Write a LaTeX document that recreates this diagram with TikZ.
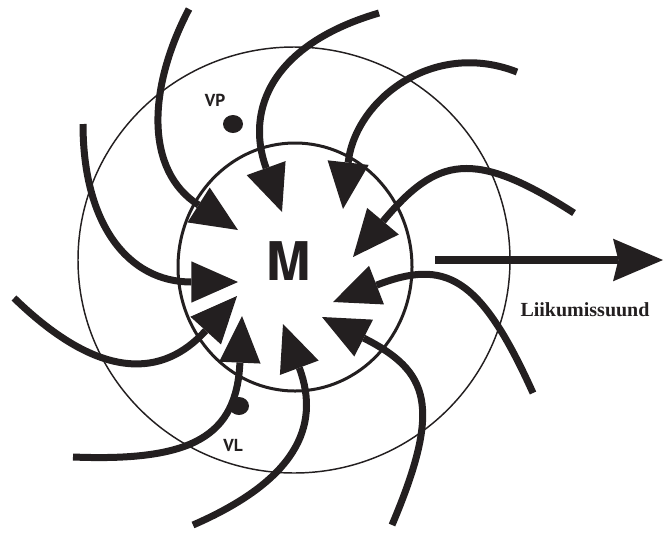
\documentclass[tikz,border=0pt]{standalone}
\usepackage{fontspec}
\newfontfamily\heros{TeX Gyre Heros}
\newfontfamily\ptsans{PT Sans}
\newfontfamily\libserif{Liberation Serif}
\usepackage{tikz}
\usetikzlibrary{arrows.meta}
\definecolor{ink}{RGB}{35,31,32}
\tikzset{every node/.append style={text=ink, inner sep=0pt}}
\tikzset{
  flow/.style={draw=ink, line width=5.25pt,
    -{Triangle[length=35pt, width=31pt, line width=0pt]}},
  motion/.style={draw=ink, line width=6pt,
    -{Stealth[length=37.5pt, width=32pt, inset=4pt, line width=0pt]}},
  spot/.style={fill=ink}
}

\begin{document}
\begin{tikzpicture}[x=0.75pt, y=-0.75pt]
    \useasboundingbox (0,0) rectangle (667,533);
    \draw[ink, line width=1.1pt] (294,260) ellipse [x radius=216, y radius=213];
    \draw[ink, line width=2.25pt] (295,267) ellipse [x radius=117, y radius=124];
    \fill[spot] (233,124) ellipse [x radius=10, y radius=9];
    \fill[spot] (239,406) ellipse [x radius=10, y radius=9];
    \node (M) at (289,261) {\heros\bfseries\fontsize{40}{40}\selectfont M};
    \node (VP) at (215,100) {\ptsans\bfseries\fontsize{13}{13}\selectfont VP};
    \node (VL) at (233,445) {\ptsans\bfseries\fontsize{13}{13}\selectfont VL};
    \node[anchor=base] (dir) at (585,316) {\libserif\bfseries\fontsize{15}{15}\selectfont Liikumissuund};
    \draw[flow] (189,9) .. controls (147.6,88) and (144.5,170.6) .. (238,230);
    \draw[flow] (379,13) .. controls (273.4,43.8) and (244.6,108.6) .. (282,212);
    \draw[flow] (517,72) .. controls (433,39) and (355.1,100.1) .. (343,209);
    \draw[flow] (574,213) .. controls (473.2,148.2) and (436.9,156.9) .. (353,257);
    \draw[flow] (533,393) .. controls (479.7,274.7) and (444.6,258.8) .. (333,302);
    \draw[flow] (392,525) .. controls (442.7,405.4) and (428.8,371) .. (322,317);
    \draw[flow] (193,525) .. controls (294.2,481) and (321.5,427.4) .. (283,324);
    \draw[flow] (73,457) .. controls (193,461.8) and (236.6,436) .. (242,316);
    \draw[flow] (14,298) .. controls (100.4,382) and (163.3,377.4) .. (237,296);
    \draw[flow] (83,124) .. controls (83,224) and (128,282) .. (238,282);
    \draw[motion] (435,260) -- (663,260);
\end{tikzpicture}
\end{document}
